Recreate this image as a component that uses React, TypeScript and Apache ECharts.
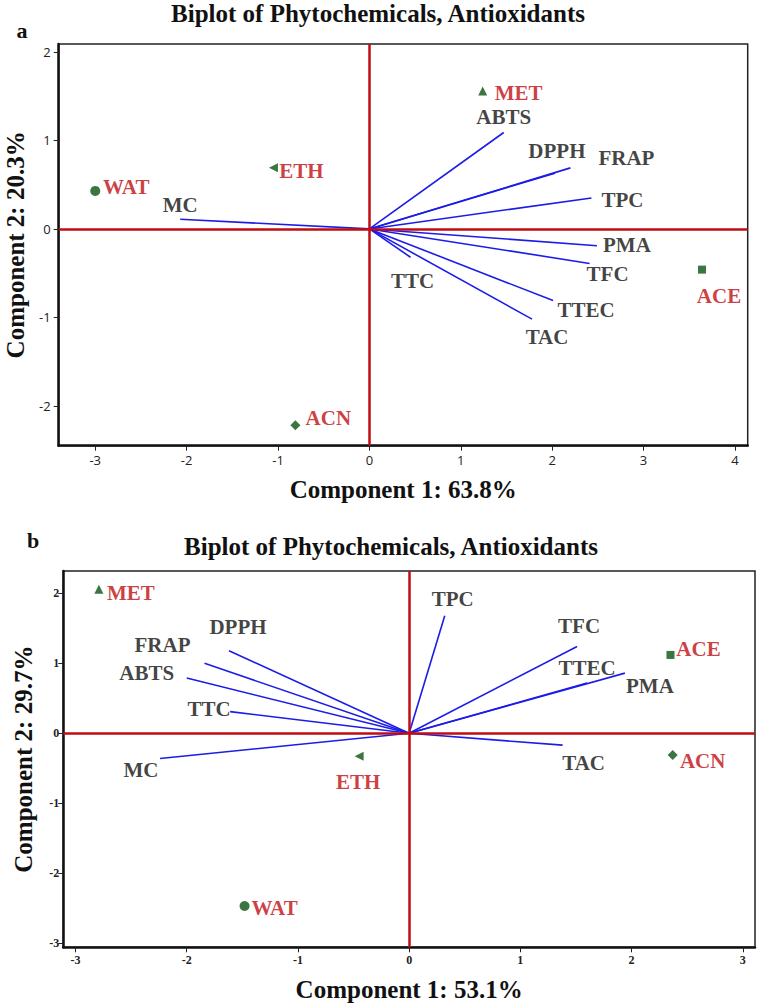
import React, { useEffect, useRef } from 'react';
import * as echarts from 'echarts';

// ---------- Plot a ----------
const samplesA = ['WAT', 'ETH', 'MET', 'ACN', 'ACE'];
const sampleXA = [-3.0, -1.05, 1.24, -0.81, 3.64];
const sampleYA = [0.43, 0.69, 1.56, -2.22, -0.46];
const varsA = ['MC', 'ABTS', 'DPPH', 'FRAP', 'TPC', 'PMA', 'TFC', 'TTEC', 'TAC', 'TTC'];
const loadXA = [-2.07, 1.47, 2.03, 2.2, 2.43, 2.49, 2.41, 2.01, 1.78, 0.45];
const loadYA = [0.11, 1.09, 0.63, 0.69, 0.35, -0.19, -0.39, -0.81, -1.02, -0.32];
const xTicksA = [-3, -2, -1, 0, 1, 2, 3, 4];
const yTicksA = [-2, -1, 0, 1, 2];

// ---------- Plot b ----------
const samplesB = ['MET', 'ACE', 'ACN', 'ETH', 'WAT'];
const sampleXB = [-2.79, 2.35, 2.37, -0.45, -1.48];
const sampleYB = [2.06, 1.12, -0.31, -0.33, -2.47];
const varsB = ['TPC', 'TFC', 'TTEC', 'PMA', 'TAC', 'DPPH', 'FRAP', 'ABTS', 'TTC', 'MC'];
const loadXB = [0.32, 1.51, 1.6, 1.94, 1.38, -1.62, -1.84, -2.0, -1.61, -2.24];
const loadYB = [1.68, 1.24, 0.72, 0.86, -0.17, 1.18, 1.0, 0.79, 0.31, -0.36];
const xTicksB = [-3, -2, -1, 0, 1, 2, 3];
const yTicksB = [-3, -2, -1, 0, 1, 2];

// ---------- styling (not data) ----------
const symbolOf: Record<string, { symbol: string; size: number; rotate: number }> = {
  WAT: { symbol: 'circle', size: 10, rotate: 0 },
  ETH: { symbol: 'triangle', size: 9, rotate: 90 },
  MET: { symbol: 'triangle', size: 9, rotate: 0 },
  ACN: { symbol: 'diamond', size: 10, rotate: 0 },
  ACE: { symbol: 'rect', size: 8, rotate: 0 },
};
const sampleLabelOffA: Record<string, number[]> = {
  WAT: [31, -4], ETH: [28, 3], MET: [36, 2], ACN: [33, -7], ACE: [17, 26],
};
const varLabelOffA: Record<string, number[]> = {
  MC: [0, -14], ABTS: [0, -15], DPPH: [2, -22], FRAP: [56, -10], TPC: [31, 2],
  PMA: [30, -1], TFC: [18, 11], TTEC: [33, 9], TAC: [15, 18], TTC: [2, 24],
};
const sampleLabelOffB: Record<string, number[]> = {
  MET: [32, 4], ACE: [28, -6], ACN: [30, 6], ETH: [-1, 26], WAT: [30, 2],
};
const varLabelOffB: Record<string, number[]> = {
  TPC: [8, -17], TFC: [2, -21], TTEC: [0, -15], PMA: [25, 13], TAC: [21, 18],
  DPPH: [9, -24], FRAP: [-42, -18], ABTS: [-40, -5], TTC: [-21, -3], MC: [-19, 12],
};

const SERIF = "'Liberation Serif', 'Times New Roman', serif";
const RED = '#c00d12';
const BLUE = '#1c1ce8';
const GREEN = '#0a5212';
const BIG = 25;

function plotSeries(
  idx: number,
  samples: string[], sx: number[], sy: number[],
  vars: string[], lx: number[], ly: number[],
  sOff: Record<string, number[]>, vOff: Record<string, number[]>
) {
  return [
    {
      type: 'scatter',
      xAxisIndex: idx,
      yAxisIndex: idx,
      z: 1,
      symbol: 'circle',
      symbolSize: 1,
      itemStyle: { color: 'rgba(0,0,0,0)' },
      data: vars.map((n, i) => ({
        name: n,
        value: [lx[i], ly[i]],
        label: { offset: vOff[n] },
      })),
      label: {
        show: true,
        position: 'inside',
        formatter: '{b}',
        color: '#111',
        fontFamily: SERIF,
        fontWeight: 'bold',
        fontSize: 21,
      },
      markLine: {
        silent: true,
        symbol: 'none',
        label: { show: false },
        lineStyle: { color: RED, width: 2.5, type: 'solid' },
        data: [{ xAxis: 0 }, { yAxis: 0 }],
      },
    },
    {
      type: 'lines',
      coordinateSystem: 'cartesian2d',
      xAxisIndex: idx,
      yAxisIndex: idx,
      z: 2,
      lineStyle: { color: BLUE, width: 1.6, opacity: 1 },
      data: vars.map((n, i) => ({ name: n, coords: [[0, 0], [lx[i], ly[i]]] })),
    },
    {
      type: 'scatter',
      xAxisIndex: idx,
      yAxisIndex: idx,
      z: 3,
      data: samples.map((n, i) => ({
        name: n,
        value: [sx[i], sy[i]],
        symbol: symbolOf[n].symbol,
        symbolSize: symbolOf[n].size,
        symbolRotate: symbolOf[n].rotate,
        label: { offset: sOff[n] },
      })),
      itemStyle: { color: GREEN },
      label: {
        show: true,
        position: 'inside',
        formatter: '{b}',
        color: RED,
        fontFamily: SERIF,
        fontWeight: 'bold',
        fontSize: 21,
      },
    },
  ];
}

function axis(
  idx: number, min: number, max: number, ticks: number[], name: string,
  nameGap: number, labelFont: any, labelMargin: number
) {
  return {
    type: 'value',
    gridIndex: idx,
    min,
    max,
    name,
    nameLocation: 'middle',
    nameGap,
    nameTextStyle: { fontFamily: SERIF, fontWeight: 'bold', fontSize: BIG, color: '#111' },
    splitLine: { show: false },
    axisLine: { show: true, onZero: false, lineStyle: { color: '#111', width: 2.5 } },
    axisTick: { show: true, length: 5, customValues: ticks, lineStyle: { color: '#222', width: 1 } },
    axisLabel: { ...labelFont, customValues: ticks, margin: labelMargin, color: '#222' },
  };
}

export default function App() {
  const ref = useRef<HTMLDivElement>(null);
  useEffect(() => {
    if (!ref.current) return;
    const chart = echarts.init(ref.current, undefined, { renderer: 'svg' });
    const fontA = { fontFamily: "'Open Sans', 'DejaVu Sans', sans-serif", fontSize: 13 };
    const fontB = { fontFamily: SERIF, fontWeight: 'bold', fontSize: 12 };
    chart.setOption({
      animation: false,
      backgroundColor: '#fff',
      grid: [
        { left: 58.7, top: 44, width: 689, height: 401.7, show: true, borderColor: '#222', borderWidth: 1.5, containLabel: false, outerBoundsMode: 'none' },
        { left: 63.3, top: 571, width: 691.7, height: 376.3, show: true, borderColor: '#222', borderWidth: 1.5, containLabel: false, outerBoundsMode: 'none' },
      ],
      xAxis: [
        axis(0, -3.4, 4.14, xTicksA, 'Component 1: 63.8%', 31.5, fontA, 8),
        axis(1, -3.11, 3.11, xTicksB, 'Component 1: 53.1%', 29.5, fontB, 7),
      ],
      yAxis: [
        axis(0, -2.45, 2.09, yTicksA, 'Component 2: 20.3%', 31, fontA, 8),
        axis(1, -3.06, 2.32, yTicksB, 'Component 2: 29.7%', 27, fontB, 4),
      ],
      graphic: [
        { type: 'text', x: 378, y: 13.5, style: { text: 'Biplot of Phytochemicals, Antioxidants', font: `bold ${BIG}px ${SERIF}`, fill: '#111', align: 'center', verticalAlign: 'middle' } },
        { type: 'text', x: 22, y: 30, style: { text: 'a', font: `bold 22px ${SERIF}`, fill: '#111', align: 'center', verticalAlign: 'middle' } },
        { type: 'text', x: 391, y: 546, style: { text: 'Biplot of Phytochemicals, Antioxidants', font: `bold ${BIG}px ${SERIF}`, fill: '#111', align: 'center', verticalAlign: 'middle' } },
        { type: 'text', x: 33, y: 540, style: { text: 'b', font: `bold 22px ${SERIF}`, fill: '#111', align: 'center', verticalAlign: 'middle' } },
      ],
      series: [
        ...plotSeries(0, samplesA, sampleXA, sampleYA, varsA, loadXA, loadYA, sampleLabelOffA, varLabelOffA),
        ...plotSeries(1, samplesB, sampleXB, sampleYB, varsB, loadXB, loadYB, sampleLabelOffB, varLabelOffB),
      ],
    });
    return () => chart.dispose();
  }, []);
  return <div ref={ref} style={{ position: 'fixed', left: 0, top: 0, width: 761, height: 1003, background: '#fff' }} />;
}
